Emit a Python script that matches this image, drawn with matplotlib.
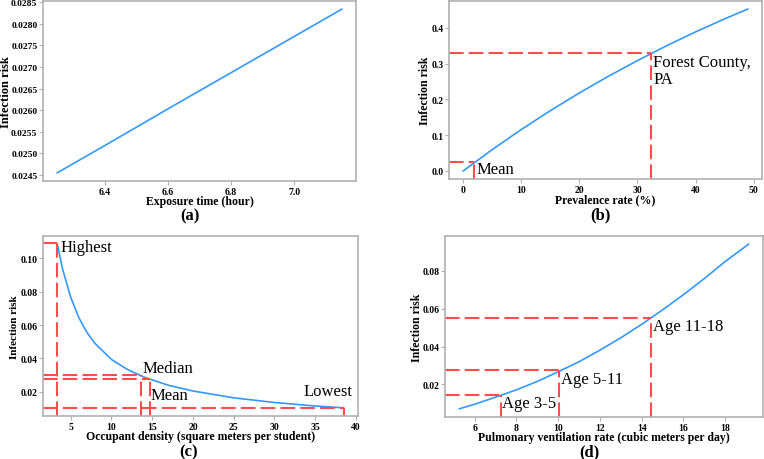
import matplotlib
matplotlib.use("Agg")
import matplotlib.pyplot as plt
import numpy as np

plt.rcParams.update({
    "font.family": ["Liberation Serif", "DejaVu Serif"],
    "font.weight": "bold",
    "axes.labelweight": "bold",
    "axes.edgecolor": "#b0b0b0",
    "axes.linewidth": 1.2,
    "xtick.color": "#b0b0b0",
    "ytick.color": "#b0b0b0",
    "xtick.labelcolor": "black",
    "ytick.labelcolor": "black",
})

BLUE = "#3399ff"
RED = "#ff4d4d"
ANNOT_FS = 12

# (a) exposure time
a_time = [6.25, 6.4, 6.6, 6.8, 7.0, 7.15]
a_risk = [0.02455, 0.02518, 0.02603, 0.02687, 0.02771, 0.02834]

# (b) prevalence rate
b_prev = [0, 5, 10, 15, 20, 25, 30, 35, 40, 45, 49]
b_risk = [0.0, 0.0596, 0.1156, 0.1683, 0.2178, 0.2644, 0.3081, 0.3494, 0.3882, 0.4247, 0.452]
b_mark_x = [1.9, 32.3]
b_mark_y = [0.026, 0.329]
b_mark_lbl = ["Mean", "Forest County,\nPA"]

# (c) occupant density
c_dens = [3.35, 4, 5, 6, 7, 8, 10, 12, 14, 17, 20, 25, 30, 35, 38.5]
c_risk = [0.1085, 0.0935, 0.0766, 0.0643, 0.0554, 0.0488, 0.0393, 0.0332, 0.0287,
          0.0238, 0.0204, 0.0163, 0.0135, 0.0114, 0.0103]
c_mark_x = [3.3, 13.6, 14.7, 38.5]
c_mark_y = [0.109, 0.0297, 0.0274, 0.0102]
c_mark_lbl = ["Highest", "Median", "Mean", "Lowest"]

# (d) pulmonary ventilation rate
d_vent = [5.27, 6, 7, 8, 9, 10, 11, 12, 13, 14, 15, 16, 17, 18, 19.12]
d_risk = [0.0072, 0.0096, 0.0133, 0.0172, 0.0216, 0.0267, 0.0320, 0.0381,
          0.0446, 0.0517, 0.0593, 0.0673, 0.0758, 0.0848, 0.0939]
d_mark_x = [7.25, 10.05, 14.45]
d_mark_y = [0.0147, 0.0274, 0.0551]
d_mark_lbl = ["Age 3-5", "Age 5-11", "Age 11-18"]

fig = plt.figure(figsize=(7.64, 4.6), dpi=100)
W, H = 764, 460


def make_ax(l, r, t, b):
    return fig.add_axes([l / W, (H - b) / H, (r - l) / W, (b - t) / H])


def style(ax, xlabel, ylabel, ylab_x, xlab_y, ylab_fs=8.6):
    ax.tick_params(labelsize=7, length=3, pad=1, width=0.8)
    ax.set_xlabel(xlabel, fontsize=8.5)
    ax.set_ylabel(ylabel, fontsize=ylab_fs)
    ax.xaxis.label.set_va("center")
    ax.yaxis.label.set_va("center")
    ax.xaxis.set_label_coords(0.5, xlab_y)
    ax.yaxis.set_label_coords(ylab_x, 0.5)


def guides(ax, xs, ys):
    ax.set_xlim(ax.get_xlim())
    ax.set_ylim(ax.get_ylim())
    x0 = ax.get_xlim()[0]
    y0 = ax.get_ylim()[0]
    for x, y in zip(xs, ys):
        ax.plot([x0, x], [y, y], color=RED, lw=1.5, dashes=(7, 2.5))
        ax.plot([x, x], [y0, y], color=RED, lw=1.5, dashes=(7, 2.5))


def annot(ax, x, y, s, **kw):
    ax.text(x, y, s, fontsize=ANNOT_FS, fontweight="normal", **kw)


# ---- (a) ----
ax = make_ax(43, 356, 2, 182)
ax.plot(a_time, a_risk, color=BLUE, lw=1.2)
ax.set_xticks([6.4, 6.6, 6.8, 7.0])
ax.set_yticks(np.arange(0.0245, 0.02851, 0.0005))
ax.yaxis.set_major_formatter(plt.FormatStrFormatter("%.4f"))
style(ax, "Exposure time (hour)", "Infection risk", -0.119, -0.112, ylab_fs=9)
ax.tick_params(axis="y", labelsize=6.8)
fig.text(190 / W, 1 - 216.5 / H, "(a)", fontsize=12, ha="center", va="center")

# ---- (b) ----
ax = make_ax(449, 762, 2, 180)
ax.plot(b_prev, b_risk, color=BLUE, lw=1.2)
guides(ax, b_mark_x, b_mark_y)
annot(ax, b_mark_x[0] + 0.4, b_mark_y[0] + 0.002, b_mark_lbl[0], va="top", ha="left")
annot(ax, b_mark_x[1] + 0.4, b_mark_y[1] - 0.002, b_mark_lbl[1], va="top", ha="left",
      linespacing=1.1)
style(ax, "Prevalence rate (%)", "Infection risk", -0.077, -0.112)
fig.text(600 / W, 1 - 215 / H, "(b)", fontsize=12, ha="center", va="center")

# ---- (c) ----
ax = make_ax(43, 358, 237, 417)
ax.plot(c_dens, c_risk, color=BLUE, lw=1.2)
guides(ax, c_mark_x, c_mark_y)
annot(ax, 3.8, 0.107, c_mark_lbl[0], va="center", ha="left")
annot(ax, 13.8, 0.0342, c_mark_lbl[1], va="center", ha="left")
annot(ax, 14.85, 0.0182, c_mark_lbl[2], va="center", ha="left")
annot(ax, 39.6, 0.0201, c_mark_lbl[3], va="center", ha="right")
style(ax, "Occupant density (square meters per student)", "Infection risk", -0.092, -0.112,
      ylab_fs=8)
fig.text(189 / W, 1 - 452 / H, "(c)", fontsize=12, ha="center", va="center")

# ---- (d) ----
ax = make_ax(445, 763, 237, 418)
ax.plot(d_vent, d_risk, color=BLUE, lw=1.2)
guides(ax, d_mark_x, d_mark_y)
for x, y, s in zip(d_mark_x, d_mark_y, d_mark_lbl):
    annot(ax, x + 0.08, y - 0.0003, s, va="top", ha="left")
style(ax, "Pulmonary ventilation rate (cubic meters per day)", "Infection risk", -0.088, -0.112)
fig.text(589 / W, 1 - 452 / H, "(d)", fontsize=12, ha="center", va="center")

fig.savefig("out.png", dpi=100)
